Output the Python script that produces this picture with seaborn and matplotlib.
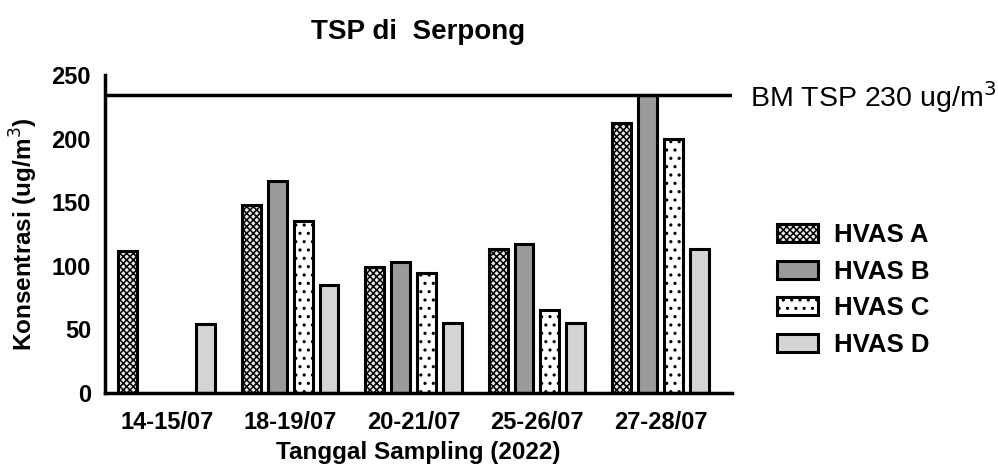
import numpy as np
import pandas as pd
import matplotlib
matplotlib.use("Agg")
import matplotlib.pyplot as plt
import seaborn as sns
from matplotlib.patches import Patch

categories = ["14-15/07", "18-19/07", "20-21/07", "25-26/07", "27-28/07"]
series_names = ["HVAS A", "HVAS B", "HVAS C", "HVAS D"]
hvas_a = [112, 148, 99, 113, 212]
hvas_b = [np.nan, 167, 103, 117, 234]
hvas_c = [np.nan, 135, 94, 65, 200]
hvas_d = [54, 85, 55, 55, 113]
bm_value = 234
bm_label = "BM TSP 230 ug/m$^3$"
yticks = [0, 50, 100, 150, 200, 250]

sns.set_theme(style="white")
plt.rcParams['font.family'] = ['Liberation Sans', 'DejaVu Sans']
plt.rcParams['hatch.linewidth'] = 1.1
for k in ["text.color", "axes.labelcolor", "xtick.color", "ytick.color"]:
    plt.rcParams[k] = "black"

df = pd.DataFrame({
    "Tanggal": categories * 4,
    "HVAS": sum([[s] * len(categories) for s in series_names], []),
    "Konsentrasi": hvas_a + hvas_b + hvas_c + hvas_d,
})

colors = {"HVAS A": "#e8e8e8", "HVAS B": "#9a9a9a", "HVAS C": "#ffffff", "HVAS D": "#d4d4d4"}
hatches = {"HVAS A": "xxxxx", "HVAS B": "", "HVAS C": "..", "HVAS D": ""}

fig = plt.figure(figsize=(9.98, 4.67), dpi=100)
ax = fig.add_axes([105 / 998, 1 - 393 / 467, (732 - 105) / 998, (393 - 75) / 467])

sns.barplot(data=df, x="Tanggal", y="Konsentrasi", hue="HVAS", order=categories,
            hue_order=series_names, palette=colors, width=0.84, gap=0.27,
            edgecolor="black", linewidth=2.2, ax=ax, legend=False)

for cont, name in zip(ax.containers, series_names):
    for bar in cont:
        bar.set_hatch(hatches[name])
        bar.set_edgecolor("black")

ax.axhline(bm_value, color="black", lw=2.5, zorder=5)
ax.text(1.028, bm_value - 1, bm_label, transform=ax.get_yaxis_transform(),
        fontsize=20.5, va="center", ha="left", clip_on=False)

ax.set_ylim(0, 250)
ax.set_xlim(-0.5, 4.58)
ax.set_yticks(yticks)
ax.set_xlabel("Tanggal Sampling (2022)", fontsize=17.5, fontweight="bold", labelpad=5)
ax.set_ylabel("Konsentrasi (ug/m$^3$)", fontsize=17.5, fontweight="bold", labelpad=8)
ax.set_title("TSP di  Serpong", fontsize=20, fontweight="bold", pad=26)

for lab in ax.get_xticklabels() + ax.get_yticklabels():
    lab.set_fontweight("bold")
    lab.set_fontsize(17)

sns.despine(ax=ax)
for s in ["left", "bottom"]:
    ax.spines[s].set_linewidth(2.5)
    ax.spines[s].set_color("black")
ax.tick_params(axis="both", direction="out", length=7, width=2.2, color="black", pad=3)
ax.tick_params(axis="x", pad=6)

handles = [Patch(facecolor=colors[n], edgecolor="black", hatch=hatches[n], linewidth=2.2)
           for n in series_names]
leg = fig.legend(handles, series_names, loc="center left", bbox_to_anchor=(754 / 998, 1 - 290 / 467),
                 frameon=False, prop={"weight": "bold", "size": 18.5}, handlelength=1.6,
                 handleheight=0.7, labelspacing=0.5, handletextpad=0.6)

fig.savefig("out.png", dpi=100)
